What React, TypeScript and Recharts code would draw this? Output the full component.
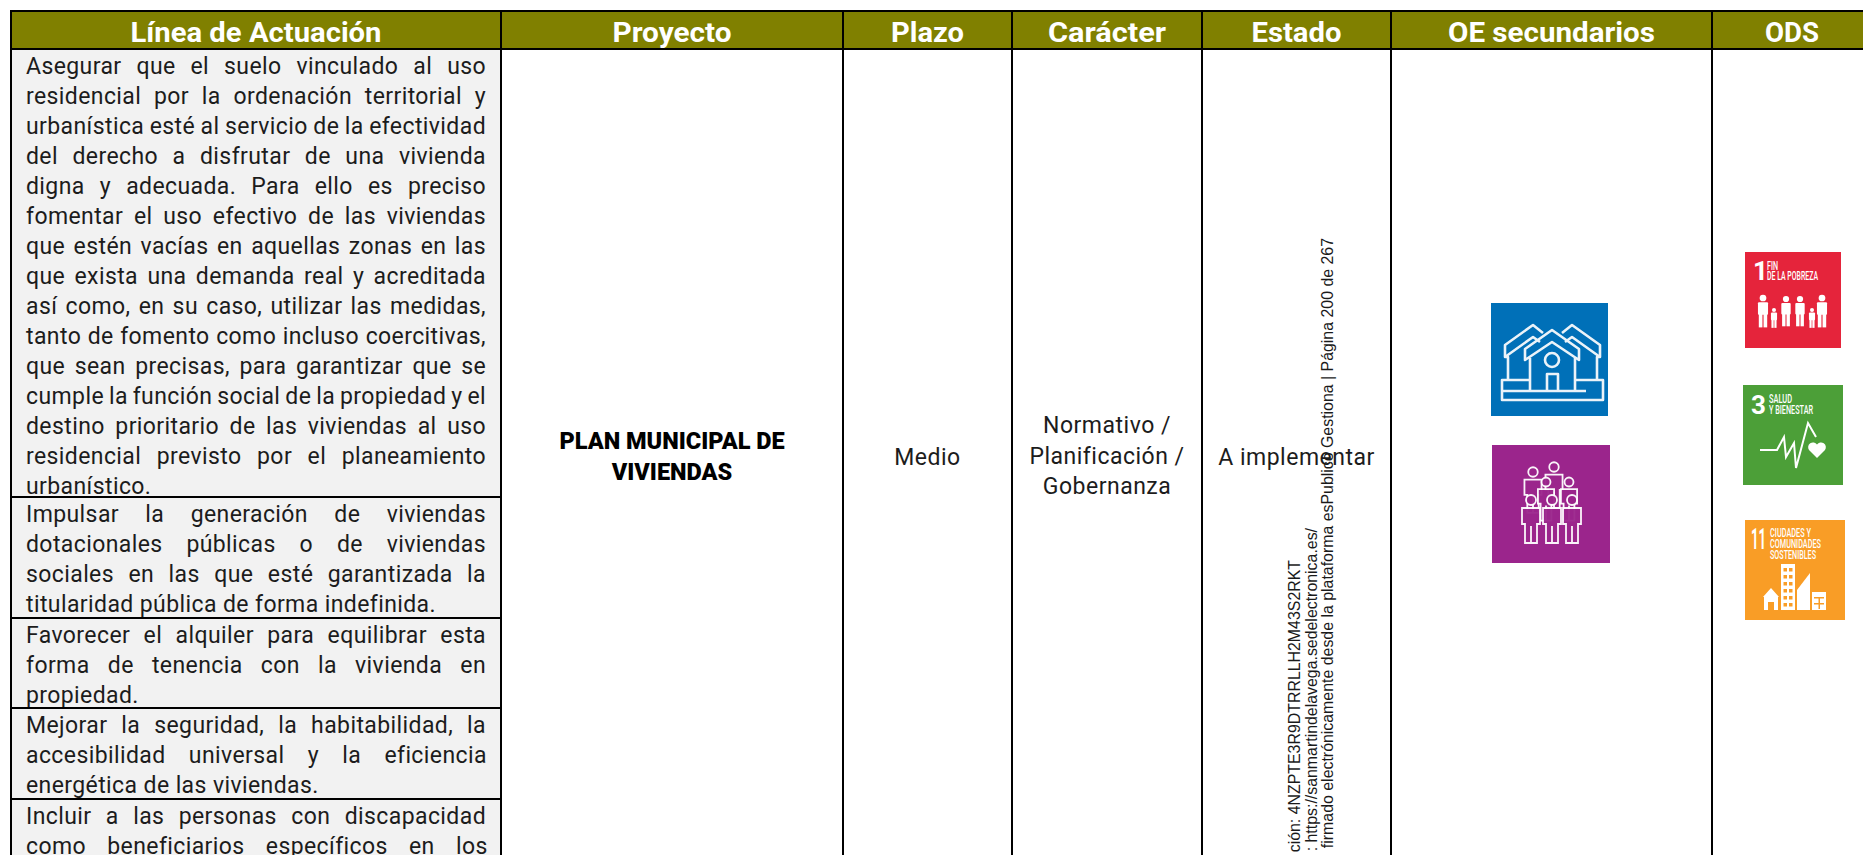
import { ComposedChart, Line, ReferenceArea, XAxis, YAxis } from "recharts";

const headerLabels = ["Línea de Actuación", "Proyecto", "Plazo", "Carácter", "Estado", "OE secundarios", "ODS"];
const headerTextWidths = [251, 119, 73, 118, 90, 207, 54];
const columnWidths = [490, 342, 169, 190, 189, 321, 160];
const rowHeights = [38, 448, 121, 90, 91, 56];

const actionLines = [
  [
    "Asegurar que el suelo vinculado al uso",
    "residencial por la ordenación territorial y",
    "urbanística esté al servicio de la efectividad",
    "del derecho a disfrutar de una vivienda",
    "digna y adecuada. Para ello es preciso",
    "fomentar el uso efectivo de las viviendas",
    "que estén vacías en aquellas zonas en las",
    "que exista una demanda real y acreditada",
    "así como, en su caso, utilizar las medidas,",
    "tanto de fomento como incluso coercitivas,",
    "que sean precisas, para garantizar que se",
    "cumple la función social de la propiedad y el",
    "destino prioritario de las viviendas al uso",
    "residencial previsto por el planeamiento",
    "urbanístico.",
  ],
  [
    "Impulsar la generación de viviendas",
    "dotacionales públicas o de viviendas",
    "sociales en las que esté garantizada la",
    "titularidad pública de forma indefinida.",
  ],
  ["Favorecer el alquiler para equilibrar esta", "forma de tenencia con la vivienda en", "propiedad."],
  ["Mejorar la seguridad, la habitabilidad, la", "accesibilidad universal y la eficiencia", "energética de las viviendas."],
  ["Incluir a las personas con discapacidad", "como beneficiarios específicos en los"],
];
const openEndedRows = [4];

const projectLines = ["PLAN MUNICIPAL DE", "VIVIENDAS"];
const termLines = ["Medio"];
const natureLines = ["Normativo /", "Planificación /", "Gobernanza"];
const statusLines = ["A implementar"];
const stampLines = [
  "ción: 4NZPTE3R9DTRRLLH2M43S2RKT",
  ": https://sanmartindelavega.sedelectronica.es/",
  "firmado electrónicamente desde la plataforma esPublico Gestiona | Página 200 de 267",
];

const FONT = "Roboto, sans-serif";
const OLIVE = "#808000";
const INK = "#1c1c1c";
const LINE_HEIGHT = 30;
const BODY_SIZE = 23;
const BODY_SPACING = 0.4;
const CHART_W = 1863;
const CHART_H = 855;
const LEFT = 11;
const TOP = 11;

const sum = (list: number[], n = list.length) => list.slice(0, n).reduce((a, b) => a + b, 0);
const columnStart = (i: number) => sum(columnWidths, i);
const bodyTop = rowHeights[0];
const bodyEnd = sum(rowHeights);

// one point per column, only there so the chart has data to lay out its axes from
const tableData = columnWidths.map((w, i) => ({ x: columnStart(i), width: w, top: 0 }));

const canvas = document.createElement("canvas");
const ctx = canvas.getContext("2d")!;
function wordGap(line: string, width: number) {
  ctx.font = `${BODY_SIZE}px Roboto`;
  const natural = ctx.measureText(line).width + BODY_SPACING * line.length;
  const gaps = line.split(" ").length - 1;
  return gaps ? (width - natural) / gaps : 0;
}

const headerCell = (label: string, textWidth: number) => (p: any) => (
  <g>
    <rect x={p.x} y={p.y} width={p.width} height={p.height} fill={OLIVE} stroke="#000" strokeWidth={2} />
    <text
      x={p.x + p.width / 2}
      y={p.y + 31}
      textAnchor="middle"
      fill="#fff"
      fontFamily={FONT}
      fontWeight={700}
      fontSize={28}
      textLength={textWidth}
      lengthAdjust="spacingAndGlyphs"
    >
      {label}
    </text>
  </g>
);

const actionCell = (lines: string[], openEnded: boolean) => (p: any) => (
  <g>
    <rect x={p.x} y={p.y} width={p.width} height={p.height} fill="#f2f2f2" stroke="#000" strokeWidth={2} />
    {lines.map((line, i) => {
      const justified = openEnded || i < lines.length - 1;
      return (
        <text
          key={line}
          x={p.x + 15}
          y={p.y + 25 + i * LINE_HEIGHT}
          fill={INK}
          fontFamily={FONT}
          fontSize={BODY_SIZE}
          letterSpacing={BODY_SPACING}
          wordSpacing={justified ? wordGap(line, 460) : 0}
        >
          {line}
        </text>
      );
    })}
  </g>
);

const plainCell = (p: any) => (
  <rect x={p.x} y={p.y} width={p.width} height={p.height} fill="#fff" stroke="#000" strokeWidth={2} />
);

const centeredLines = (lines: string[], firstBaseline: number, bold = false) => (p: any) => (
  <g>
    {lines.map((line, i) => (
      <text
        key={line}
        x={p.x + p.width / 2}
        y={firstBaseline + i * 30.5}
        textAnchor="middle"
        fill={bold ? "#000" : INK}
        fontFamily={FONT}
        fontWeight={bold ? 900 : 400}
        fontSize={bold ? 23.5 : 23}
        letterSpacing={bold ? 0 : 0.5}
      >
        {line}
      </text>
    ))}
  </g>
);

const stamp = () => {
  const tops = [560, 528, 238];
  const baselines = [1300, 1317, 1333];
  return (
    <g>
      {stampLines.map((line, i) => (
        <text
          key={line}
          transform={`translate(${baselines[i]} ${tops[i]}) rotate(-90)`}
          textAnchor="end"
          fill="#1a1a1a"
          fontFamily="'Liberation Sans', Arial, sans-serif"
          fontSize={15.9}
        >
          {line}
        </text>
      ))}
    </g>
  );
};

const HouseIcon = (p: any) => {
  const sx = (v: number) => p.x + v;
  const sy = (v: number) => p.y + v;
  const pts = (list: number[][]) => list.map(([a, b]) => `${sx(a)},${sy(b)}`).join(" ");
  return (
    <g>
      <rect x={p.x} y={p.y} width={p.width} height={p.height} fill="#0070b8" />
      <g fill="none" stroke="#fff" strokeWidth={2.6} strokeLinejoin="round" opacity={0.92}>
        <polyline points={pts([[17, 77], [17, 54], [14, 54], [14, 42], [42, 22], [52, 30]])} />
        <polyline points={pts([[14, 54], [42, 34], [49, 39]])} />
        <polyline points={pts([[106, 77], [106, 54], [109, 54], [109, 42], [81, 22], [71, 30]])} />
        <polyline points={pts([[109, 54], [81, 34], [74, 39]])} />
        <polygon points={pts([[34, 46], [61, 27], [88, 46], [88, 57], [61, 39], [34, 57]])} />
        <polyline points={pts([[39, 55], [39, 88]])} />
        <polyline points={pts([[84, 55], [84, 88]])} />
        <circle cx={sx(61)} cy={sy(57)} r={7} />
        <polyline points={pts([[56, 88], [56, 71], [67, 71], [67, 88]])} />
        <polyline points={pts([[38, 77], [11, 77], [11, 97], [112, 97], [112, 77], [85, 77]])} />
        <polyline points={pts([[11, 88], [95, 88]])} />
      </g>
    </g>
  );
};

const PeopleIcon = (p: any) => {
  const person = (cx: number, top: number, s: number, key: number) => {
    const X = p.x + cx;
    const Y = p.y + top;
    return (
      <g key={key} fill="#9b258c" stroke="#fff" strokeWidth={1.8} opacity={0.95}>
        <circle cx={X} cy={Y} r={5 * s} />
        <path
          d={`M${X - 9 * s} ${Y + 8 * s} H${X + 9 * s} V${Y + 24 * s} H${X + 6 * s} V${Y + 43 * s} H${X - 6 * s} V${Y + 24 * s} H${X - 9 * s} Z M${X} ${Y + 26 * s} V${Y + 43 * s}`}
        />
      </g>
    );
  };
  return (
    <g>
      <rect x={p.x} y={p.y} width={p.width} height={p.height} fill="#9b258c" />
      {person(41, 27, 0.95, 1)}
      {person(62, 22, 0.95, 2)}
      {person(77, 37, 0.9, 3)}
      {person(54, 37, 0.9, 4)}
      {person(39, 55, 1, 5)}
      {person(60, 55, 1, 6)}
      {person(80, 55, 1, 7)}
    </g>
  );
};

const sdgLabel = (x: number, y: number, text: string, width: number, size = 12.5) => (
  <text
    key={text}
    x={x}
    y={y}
    fill="#fff"
    fontFamily={FONT}
    fontWeight={500}
    fontSize={size}
    textLength={width}
    lengthAdjust="spacingAndGlyphs"
  >
    {text}
  </text>
);

const SdgOne = (p: any) => {
  const fig = (cx: number, top: number, s: number, key: number) => (
    <g key={key} fill="#fff">
      <circle cx={p.x + cx} cy={p.y + top} r={2.4 * s} />
      <rect x={p.x + cx - 3.6 * s} y={p.y + top + 3 * s} width={7.2 * s} height={9 * s} rx={1} />
      <rect x={p.x + cx - 3 * s} y={p.y + top + 11 * s} width={2.6 * s} height={10 * s} />
      <rect x={p.x + cx + 0.4 * s} y={p.y + top + 11 * s} width={2.6 * s} height={10 * s} />
    </g>
  );
  return (
    <g>
      <rect x={p.x} y={p.y} width={p.width} height={p.height} fill="#e5243b" />
      <text x={p.x + 8} y={p.y + 28} fill="#fff" fontFamily={FONT} fontWeight={700} fontSize={26}>
        1
      </text>
      {sdgLabel(p.x + 22, p.y + 18, "FIN", 11)}
      {sdgLabel(p.x + 22, p.y + 28, "DE LA POBREZA", 51)}
      {fig(18, 46, 1.4, 1)}
      {fig(29, 58, 0.85, 2)}
      {fig(41, 47, 1.3, 3)}
      {fig(55, 47, 1.3, 4)}
      {fig(67, 58, 0.85, 5)}
      {fig(77, 46, 1.4, 6)}
    </g>
  );
};

const SdgThree = (p: any) => (
  <g>
    <rect x={p.x} y={p.y} width={p.width} height={p.height} fill="#4c9f38" />
    <text x={p.x + 8} y={p.y + 29} fill="#fff" fontFamily={FONT} fontWeight={700} fontSize={26}>
      3
    </text>
    {sdgLabel(p.x + 26, p.y + 18, "SALUD", 23)}
    {sdgLabel(p.x + 26, p.y + 29, "Y BIENESTAR", 44)}
    <polyline
      fill="none"
      stroke="#fff"
      strokeWidth={2}
      points={[
        [17, 65],
        [34, 65],
        [41, 52],
        [43, 72],
        [51, 58],
        [53, 83],
        [65, 38],
        [73, 52],
      ]
        .map(([a, b]) => `${p.x + a},${p.y + b}`)
        .join(" ")}
    />
    <path fill="#fff" d={`M${p.x + 74} ${p.y + 73} l-8 -8 a4.5 4.5 0 0 1 8 -5.5 a4.5 4.5 0 0 1 8 5.5 z`} />
  </g>
);

const SdgEleven = (p: any) => (
  <g>
    <rect x={p.x} y={p.y} width={p.width} height={p.height} fill="#f99d26" />
    <text x={p.x + 6} y={p.y + 29} fill="#fff" fontFamily={FONT} fontWeight={700} fontSize={29} textLength={15} lengthAdjust="spacingAndGlyphs">
      11
    </text>
    {sdgLabel(p.x + 25, p.y + 17, "CIUDADES Y", 41)}
    {sdgLabel(p.x + 25, p.y + 28, "COMUNIDADES", 51)}
    {sdgLabel(p.x + 25, p.y + 39, "SOSTENIBLES", 46)}
    <g fill="#fff">
      <path d={`M${p.x + 19} ${p.y + 90} v-13 h-1 l8 -9 l8 9 h-1 v13 h-4 v-8 h-6 v8 z`} />
      <rect x={p.x + 36} y={p.y + 44} width={14} height={46} />
      <path d={`M${p.x + 52} ${p.y + 90} v-20 l13 -17 v37 z`} />
      <rect x={p.x + 67} y={p.y + 72} width={14} height={18} />
    </g>
    <g fill="#f99d26">
      {[48, 55, 62, 69, 76, 83].map((v) => (
        <g key={v}>
          <rect x={p.x + 38.5} y={p.y + v} width={3.5} height={3.5} />
          <rect x={p.x + 44} y={p.y + v} width={3.5} height={3.5} />
        </g>
      ))}
      <rect x={p.x + 69} y={p.y + 77} width={10} height={1.5} />
      <rect x={p.x + 69} y={p.y + 83} width={10} height={1.5} />
      <rect x={p.x + 73.5} y={p.y + 77} width={1.5} height={12} />
    </g>
  </g>
);

// icon boxes, in page pixels
const iconBoxes = [
  { x: [1491, 1608], y: [303, 416], shape: HouseIcon },
  { x: [1492, 1610], y: [445, 563], shape: PeopleIcon },
  { x: [1745, 1841], y: [252, 348], shape: SdgOne },
  { x: [1743, 1843], y: [385, 485], shape: SdgThree },
  { x: [1745, 1845], y: [520, 620], shape: SdgEleven },
];

export default function App() {
  return (
    <div style={{ position: "absolute", left: 0, top: 0, width: CHART_W, height: CHART_H, background: "#fff" }}>
      <ComposedChart
        width={CHART_W}
        height={CHART_H}
        data={tableData}
        margin={{ top: TOP, right: 0, bottom: 0, left: LEFT }}
      >
        <XAxis type="number" dataKey="x" domain={[0, CHART_W - LEFT]} allowDataOverflow hide />
        <YAxis type="number" domain={[0, CHART_H - TOP]} allowDataOverflow reversed hide />
        <Line dataKey="top" stroke="none" dot={false} legendType="none" isAnimationActive={false} />

        {/* merged cells of the columns after the first */}
        {columnWidths.slice(1).map((w, i) => (
          <ReferenceArea
            key={`body-${i}`}
            x1={columnStart(i + 1)}
            x2={columnStart(i + 1) + w}
            y1={bodyTop}
            y2={bodyEnd + 20}
            ifOverflow="visible"
            shape={plainCell}
          />
        ))}

        {actionLines.map((lines, i) => (
          <ReferenceArea
            key={`action-${i}`}
            x1={0}
            x2={columnWidths[0]}
            y1={sum(rowHeights, i + 1)}
            y2={sum(rowHeights, i + 2) + (openEndedRows.includes(i) ? 20 : 0)}
            ifOverflow="visible"
            shape={actionCell(lines, openEndedRows.includes(i))}
          />
        ))}

        {headerLabels.map((label, i) => (
          <ReferenceArea
            key={label}
            x1={columnStart(i)}
            x2={columnStart(i) + columnWidths[i]}
            y1={0}
            y2={rowHeights[0]}
            ifOverflow="visible"
            shape={headerCell(label, headerTextWidths[i])}
          />
        ))}

        {[projectLines, termLines, natureLines, statusLines].map((lines, i) => (
          <ReferenceArea
            key={lines[0]}
            x1={columnStart(i + 1)}
            x2={columnStart(i + 1) + columnWidths[i + 1]}
            y1={bodyTop}
            y2={bodyEnd}
            ifOverflow="visible"
            shape={centeredLines(lines, [449, 465, 433, 465][i], i === 0)}
          />
        ))}

        <ReferenceArea x1={0} x2={10} y1={0} y2={10} ifOverflow="visible" shape={stamp} />

        {iconBoxes.map((box, i) => (
          <ReferenceArea
            key={i}
            x1={box.x[0] - LEFT}
            x2={box.x[1] - LEFT}
            y1={box.y[0] - TOP}
            y2={box.y[1] - TOP}
            ifOverflow="visible"
            shape={box.shape}
          />
        ))}
      </ComposedChart>
    </div>
  );
}
